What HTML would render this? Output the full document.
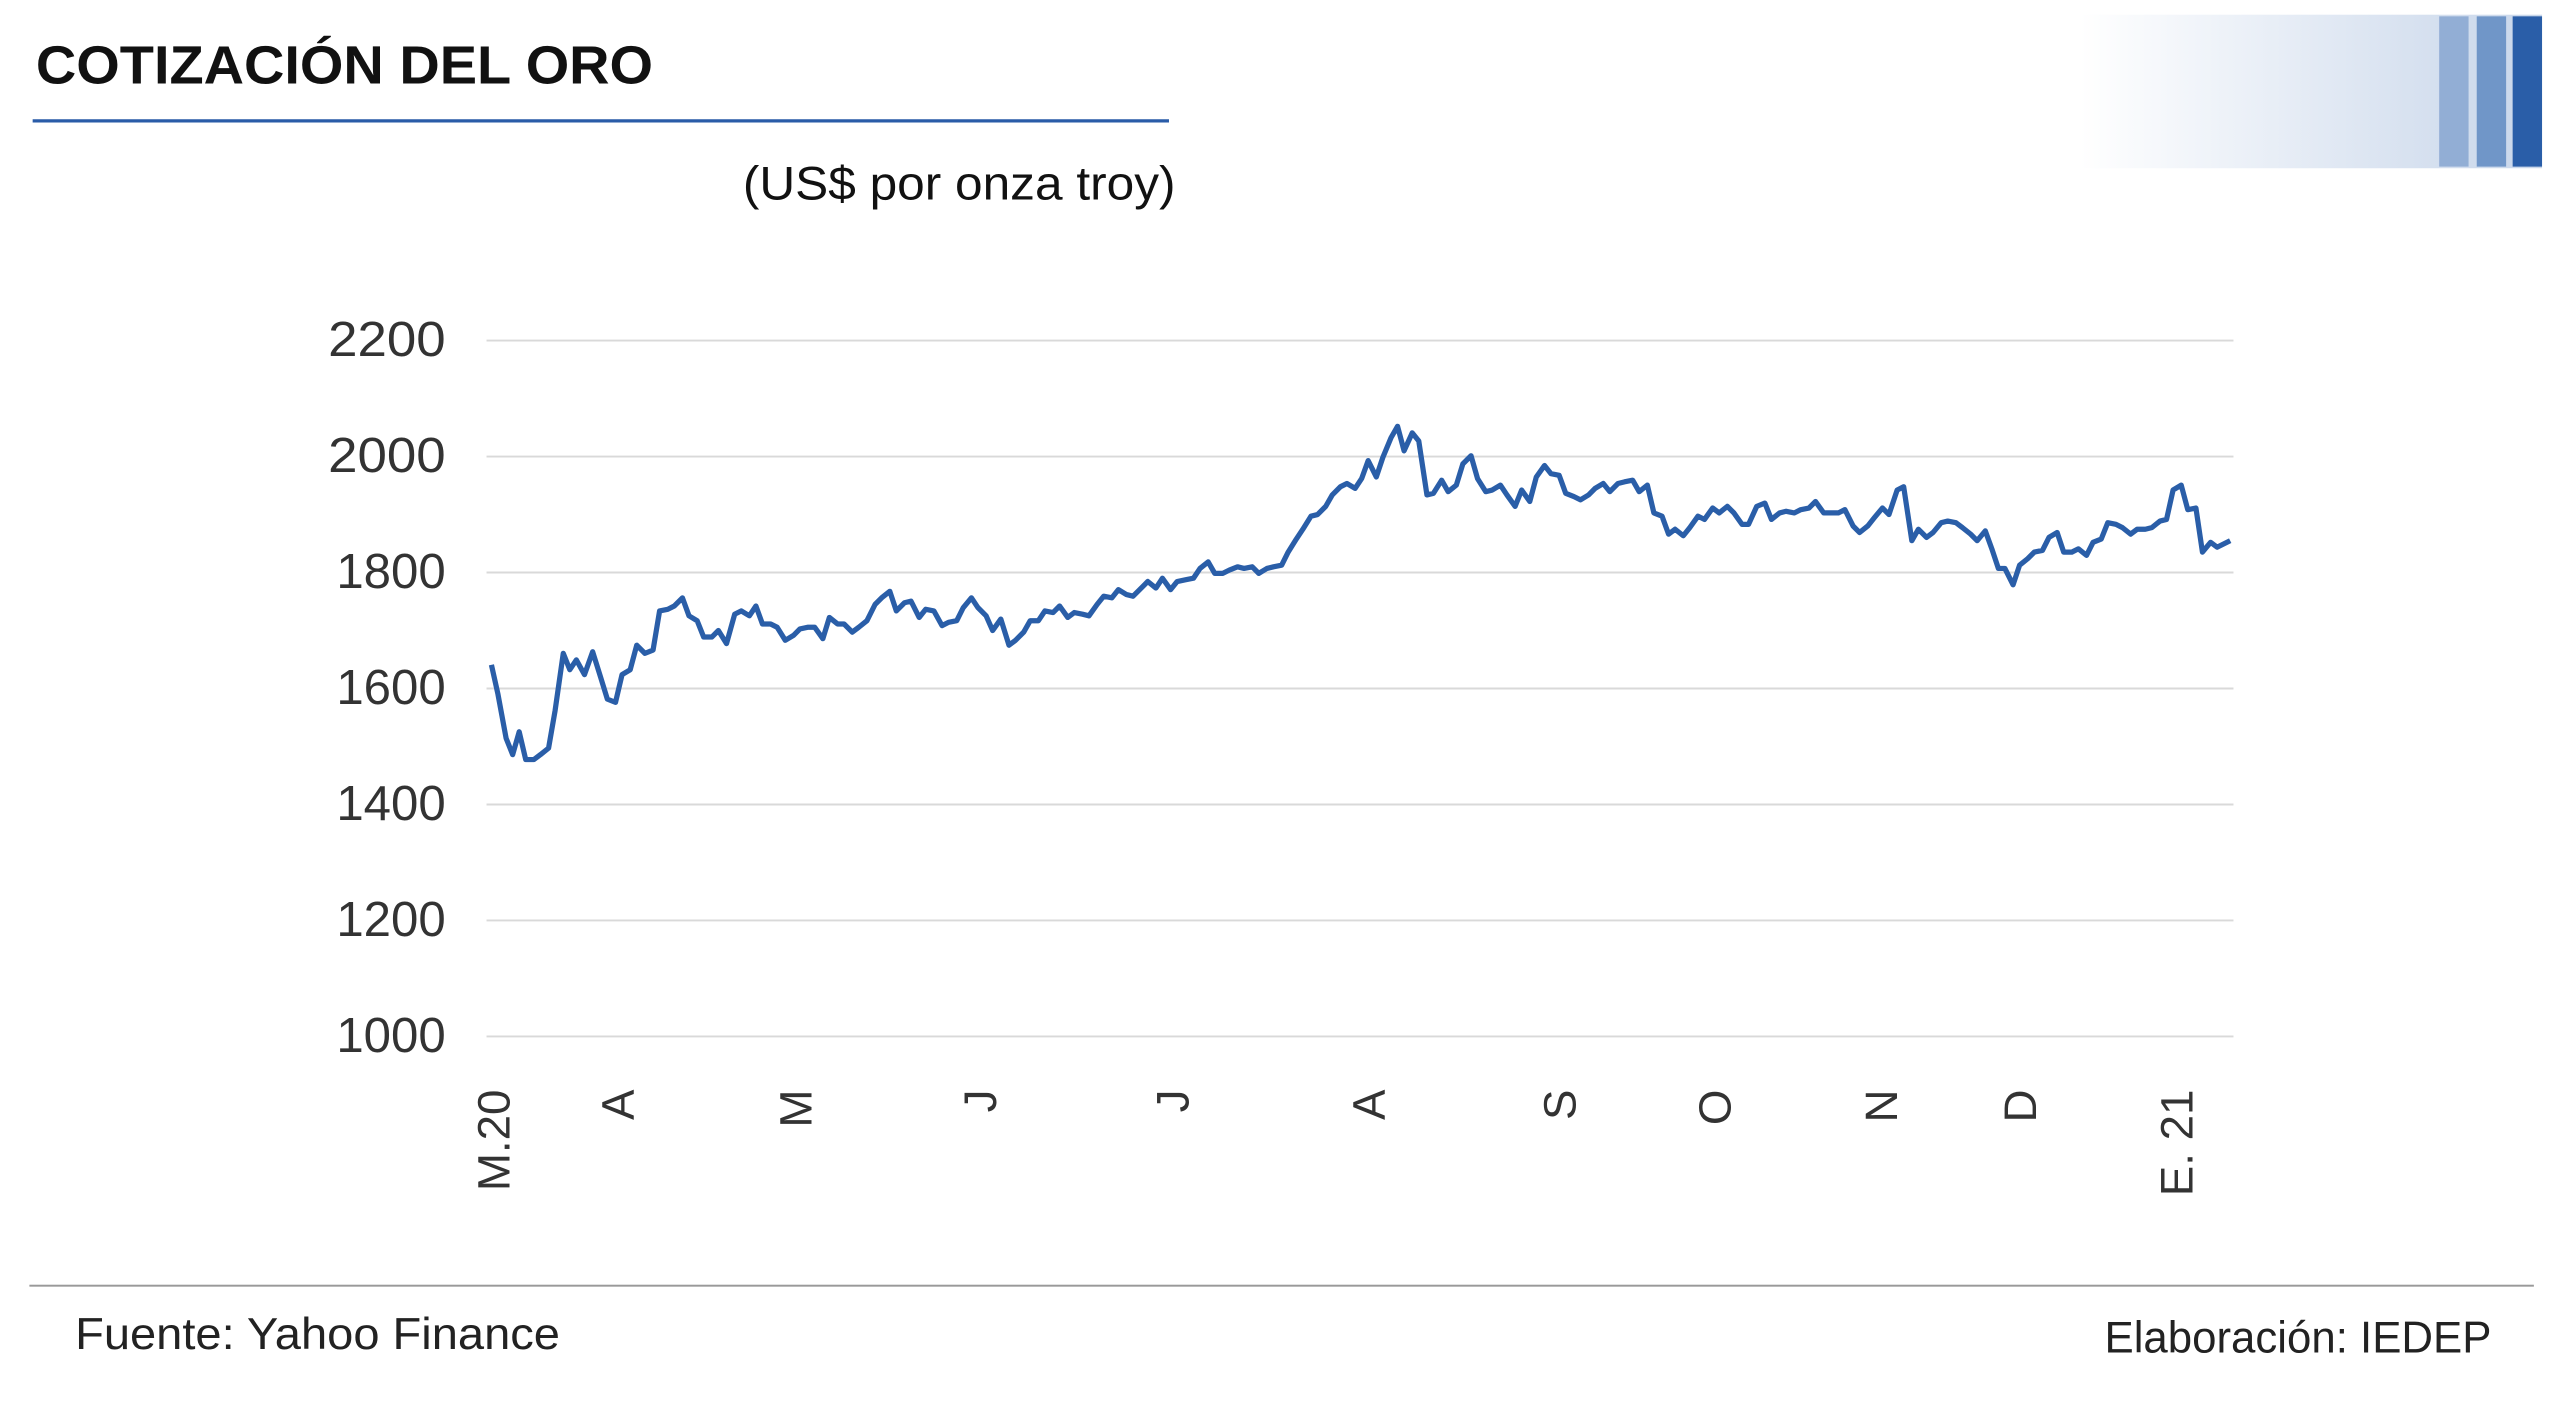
<!DOCTYPE html>
<html><head><meta charset="utf-8"><style>html,body{margin:0;padding:0;background:#fff;}svg{display:block}</style></head>
<body>
<svg width="2560" height="1426" viewBox="0 0 1568 873" preserveAspectRatio="none" xmlns="http://www.w3.org/2000/svg" font-family="Liberation Sans, sans-serif">
<defs><linearGradient id="g" x1="0" x2="1" y1="0" y2="0"><stop offset="0" stop-color="#fff"/><stop offset="1" stop-color="#c8d6ea"/></linearGradient></defs>
<rect x="1274" y="9" width="283" height="94" fill="url(#g)"/>
<rect x="1494" y="10" width="18" height="92" fill="#92aed5"/>
<rect x="1517" y="10" width="18" height="92" fill="#7096c8"/>
<rect x="1539" y="10" width="18" height="92" fill="#2a5ea8"/>
<text x="22" y="51" font-size="33" font-weight="bold" fill="#111" textLength="378" lengthAdjust="spacingAndGlyphs">COTIZACIÓN DEL ORO</text>
<rect x="20" y="73" width="696" height="2" fill="#2a5ca8"/>
<text x="455" y="122" font-size="29" fill="#111" textLength="265" lengthAdjust="spacingAndGlyphs">(US$ por onza troy)</text>
<g stroke="#d9d9d9" stroke-width="1.2">
<line x1="298" x2="1368" y1="208.5" y2="208.5"/><line x1="298" x2="1368" y1="279.5" y2="279.5"/><line x1="298" x2="1368" y1="350.5" y2="350.5"/><line x1="298" x2="1368" y1="421.5" y2="421.5"/><line x1="298" x2="1368" y1="492.5" y2="492.5"/><line x1="298" x2="1368" y1="563.5" y2="563.5"/><line x1="298" x2="1368" y1="634.5" y2="634.5"/>
</g>
<g font-size="30" fill="#333" text-anchor="end">
<text x="273" y="218" textLength="72" lengthAdjust="spacingAndGlyphs">2200</text><text x="273" y="289" textLength="72" lengthAdjust="spacingAndGlyphs">2000</text><text x="273" y="360" textLength="67" lengthAdjust="spacingAndGlyphs">1800</text><text x="273" y="431" textLength="67" lengthAdjust="spacingAndGlyphs">1600</text><text x="273" y="502" textLength="67" lengthAdjust="spacingAndGlyphs">1400</text><text x="273" y="573" textLength="67" lengthAdjust="spacingAndGlyphs">1200</text><text x="273" y="644" textLength="67" lengthAdjust="spacingAndGlyphs">1000</text>
</g>
<g font-size="28" fill="#333" text-anchor="end">
<text transform="translate(312,667) rotate(-90)">M.20</text>
<text transform="translate(388,667) rotate(-90)">A</text>
<text transform="translate(497,667) rotate(-90)">M</text>
<text transform="translate(610,667) rotate(-90)">J</text>
<text transform="translate(728,667) rotate(-90)">J</text>
<text transform="translate(848,667) rotate(-90)">A</text>
<text transform="translate(965,667) rotate(-90)">S</text>
<text transform="translate(1060,667) rotate(-90)">O</text>
<text transform="translate(1162,667) rotate(-90)">N</text>
<text transform="translate(1247,667) rotate(-90)">D</text>
<text transform="translate(1343,667) rotate(-90)">E. 21</text>
</g>
<polyline fill="none" stroke="#2a5ea8" stroke-width="3.2" stroke-linejoin="round" points="301,407 305,425 310,452 314,462 318,448 322,465 327,465 331,462 336,458 340,435 345,400 349,410 353,404 358,413 363,399 368,415 372,428 377,430 381,413 386,410 390,395 395,400 400,398 404,374 409,373 413,371 418,366 422,377 427,380 431,390 436,390 440,386 445,394 450,376 454,374 459,377 463,371 467,382 472,382 476,384 481,392 486,389 490,385 495,384 499,384 504,391 508,378 513,382 517,382 522,387 526,384 531,380 536,370 540,366 545,362 549,374 554,369 558,368 563,378 567,373 572,374 577,383 581,381 586,380 590,372 595,366 599,372 604,377 608,386 613,379 618,395 622,392 627,387 631,380 636,380 640,374 645,375 649,371 654,378 658,375 663,376 667,377 672,370 676,365 681,366 685,361 690,364 694,365 699,360 703,356 708,360 712,354 717,361 721,356 726,355 731,354 735,348 740,344 744,351 749,351 753,349 758,347 762,348 767,347 771,351 776,348 780,347 785,346 789,338 794,330 798,324 803,316 807,315 812,310 816,303 821,298 825,296 830,299 834,293 838,282 843,292 847,280 852,268 856,261 860,276 865,265 869,270 874,303 878,302 883,294 887,301 892,297 896,284 901,279 905,293 910,301 914,300 919,297 923,303 928,310 932,300 937,307 941,292 946,285 950,290 955,291 959,302 964,304 968,306 973,303 977,299 982,296 986,301 991,296 995,295 1000,294 1004,301 1009,297 1013,314 1018,316 1022,327 1026,324 1031,328 1035,323 1040,316 1044,318 1049,311 1053,314 1058,310 1062,314 1067,321 1071,321 1076,310 1081,308 1085,318 1090,314 1094,313 1099,314 1103,312 1108,311 1112,307 1117,314 1121,314 1126,314 1130,312 1135,322 1139,326 1144,322 1148,317 1153,311 1157,315 1162,300 1166,298 1171,331 1175,324 1180,329 1184,326 1189,320 1193,319 1198,320 1202,323 1207,327 1211,331 1216,325 1220,336 1224,348 1228,348 1233,358 1237,346 1242,342 1246,338 1251,337 1255,329 1260,326 1264,338 1269,338 1273,336 1278,340 1282,332 1287,330 1291,320 1296,321 1300,323 1305,327 1309,324 1314,324 1318,323 1323,319 1327,318 1331,300 1336,297 1340,312 1345,311 1349,338 1354,332 1358,335 1362,333 1366,331"/>
<rect x="18" y="786.5" width="1534" height="1.2" fill="#999"/>
<text x="46" y="826" font-size="27" fill="#222" textLength="297" lengthAdjust="spacingAndGlyphs">Fuente: Yahoo Finance</text>
<text x="1526" y="828" font-size="27" fill="#222" text-anchor="end" textLength="237" lengthAdjust="spacingAndGlyphs">Elaboración: IEDEP</text>
</svg>
</body></html>
